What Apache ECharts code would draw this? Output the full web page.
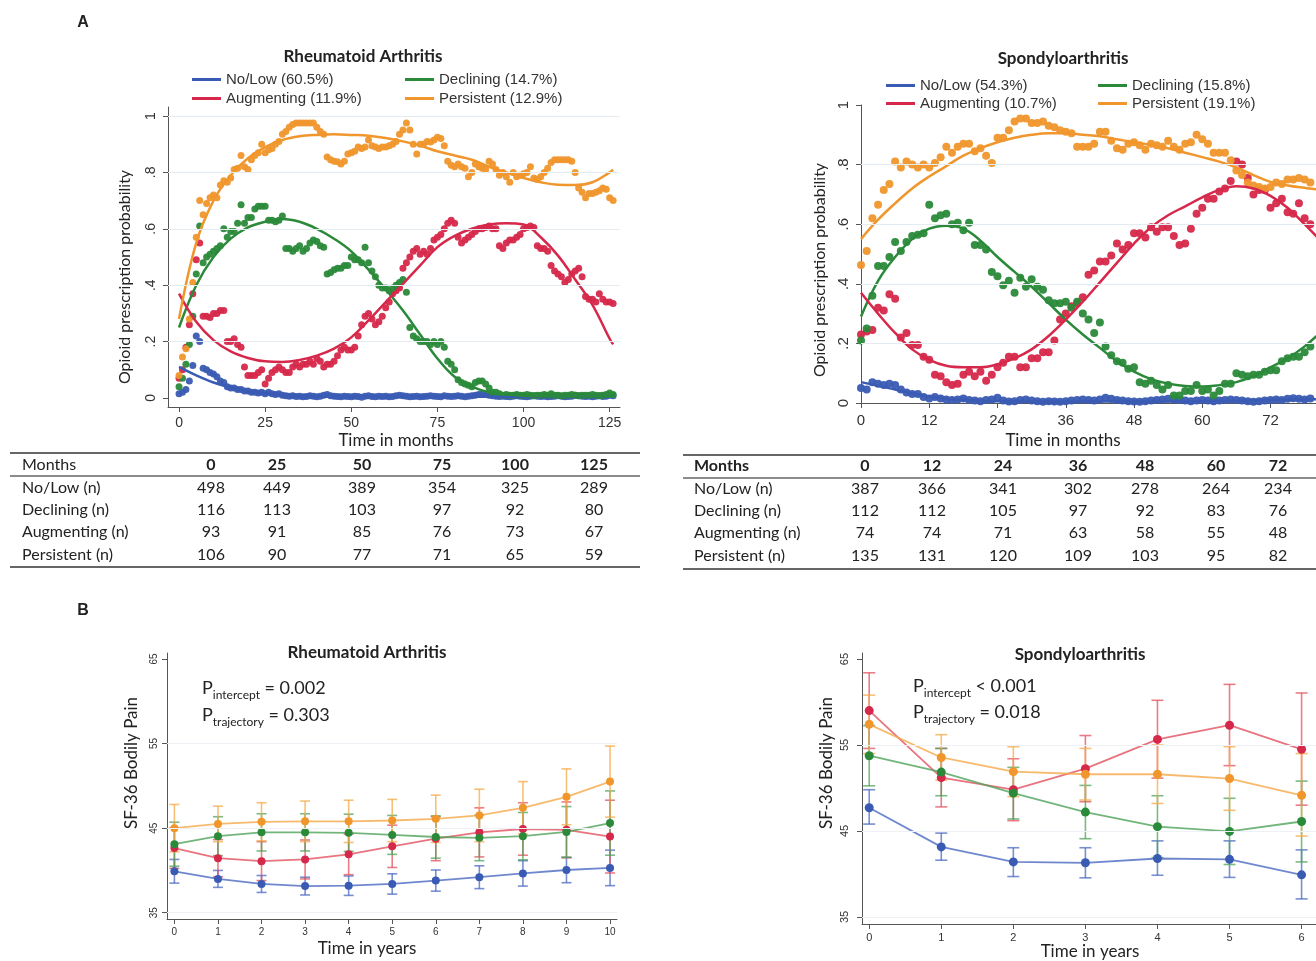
<!DOCTYPE html>
<html><head><meta charset="utf-8">
<script src="https://cdn.jsdelivr.net/npm/echarts@6/dist/echarts.min.js"></script>
<style>html,body{margin:0;padding:0;background:#fff}#c{width:1316px;height:961px}</style>
</head><body><div id="c"></div><script>
// ---------------- DATA ----------------
const groups = ['No/Low', 'Declining', 'Augmenting', 'Persistent'];
const raLegend = ['No/Low (60.5%)', 'Declining (14.7%)', 'Augmenting (11.9%)', 'Persistent (12.9%)'];
const spaLegend = ['No/Low (54.3%)', 'Declining (15.8%)', 'Augmenting (10.7%)', 'Persistent (19.1%)'];

// Panel A, Rheumatoid Arthritis: observed monthly probabilities, months 0..126
const raNoLow = [0.015,0.02,0.03,0.06,0.115,0.22,0.20,0.105,0.10,0.09,
 0.085,0.075,0.06,0.055,0.04,0.035,0.035,0.03,0.03,0.025,
 0.025,0.02,0.02,0.018,0.02,0.015,0.02,0.015,0.012,0.015,
 0.010,0.008,0.006,0.008,0.005,0.006,0.004,0.005,0.008,0.006,
 0.004,0.006,0.010,0.012,0.008,0.006,0.005,0.004,0.006,0.005,
 0.004,0.006,0.005,0.003,0.006,0.008,0.005,0.004,0.006,0.005,
 0.006,0.004,0.005,0.008,0.010,0.008,0.006,0.004,0.005,0.006,
 0.004,0.005,0.006,0.008,0.006,0.005,0.004,0.008,0.006,0.005,
 0.006,0.008,0.006,0.004,0.006,0.008,0.010,0.012,0.014,0.012,
 0.010,0.008,0.006,0.005,0.006,0.005,0.004,0.006,0.008,0.006,
 0.005,0.004,0.006,0.008,0.006,0.005,0.006,0.004,0.005,0.006,
 0.008,0.006,0.004,0.005,0.006,0.010,0.008,0.006,0.005,0.006,
 0.004,0.006,0.008,0.005,0.006,0.010,0.008];
const raDeclining = [0.04,0.07,0.12,0.19,0.29,0.44,0.61,0.48,0.50,0.51,
 0.52,0.53,0.54,0.60,0.57,0.59,0.59,0.62,0.685,0.62,
 0.64,0.64,0.67,0.68,0.68,0.68,0.63,0.63,0.625,0.63,
 0.645,0.53,0.53,0.52,0.53,0.54,0.52,0.53,0.55,0.56,
 0.555,0.54,0.535,0.44,0.445,0.455,0.46,0.46,0.47,0.47,
 0.50,0.49,0.49,0.48,0.535,0.48,0.45,0.43,0.40,0.39,
 0.39,0.38,0.39,0.40,0.41,0.42,0.375,0.25,0.22,0.21,
 0.20,0.20,0.20,0.19,0.20,0.19,0.20,0.18,0.13,0.12,
 0.10,0.065,0.055,0.05,0.045,0.04,0.055,0.06,0.06,0.05,
 0.035,0.02,0.02,0.015,0.01,0.012,0.01,0.01,0.012,0.01,
 0.01,0.012,0.01,0.008,0.01,0.01,0.012,0.01,0.015,0.01,
 0.01,0.008,0.01,0.01,0.012,0.01,0.008,0.01,0.01,0.01,
 0.012,0.01,0.008,0.01,0.012,0.018,0.012];
const raAugmenting = [0.07,0.10,0.18,0.26,0.37,0.49,0.55,0.29,0.29,0.285,
 0.30,0.30,0.31,0.31,0.20,0.20,0.21,0.19,0.18,0.11,
 0.08,0.08,0.08,0.09,0.10,0.05,0.07,0.09,0.10,0.11,
 0.10,0.09,0.09,0.11,0.12,0.11,0.12,0.12,0.13,0.12,
 0.14,0.13,0.11,0.12,0.12,0.13,0.15,0.17,0.18,0.17,
 0.17,0.18,0.22,0.26,0.29,0.30,0.28,0.26,0.27,0.29,
 0.32,0.34,0.37,0.38,0.39,0.46,0.48,0.50,0.52,0.53,
 0.51,0.52,0.51,0.53,0.56,0.57,0.58,0.60,0.62,0.63,
 0.62,0.57,0.55,0.56,0.57,0.58,0.59,0.60,0.60,0.605,
 0.61,0.60,0.60,0.54,0.53,0.55,0.56,0.56,0.57,0.58,
 0.60,0.605,0.61,0.605,0.54,0.53,0.53,0.52,0.47,0.45,
 0.44,0.43,0.41,0.42,0.44,0.45,0.46,0.43,0.36,0.35,
 0.35,0.34,0.37,0.35,0.34,0.34,0.335];
const raPersistent = [0.08,0.145,0.175,0.28,0.41,0.57,0.70,0.65,0.69,0.71,
 0.72,0.71,0.755,0.77,0.765,0.78,0.81,0.815,0.86,0.82,
 0.81,0.845,0.86,0.87,0.90,0.87,0.88,0.885,0.90,0.91,
 0.935,0.945,0.96,0.97,0.975,0.975,0.975,0.975,0.975,0.975,
 0.96,0.945,0.935,0.855,0.845,0.84,0.838,0.83,0.84,0.865,
 0.87,0.875,0.89,0.885,0.89,0.915,0.895,0.89,0.885,0.89,
 0.89,0.895,0.90,0.91,0.935,0.95,0.975,0.95,0.90,0.865,
 0.90,0.90,0.91,0.908,0.915,0.925,0.92,0.895,0.84,0.825,
 0.82,0.83,0.82,0.815,0.785,0.80,0.83,0.82,0.815,0.81,
 0.84,0.83,0.81,0.79,0.80,0.785,0.765,0.80,0.785,0.79,
 0.795,0.80,0.82,0.78,0.775,0.785,0.80,0.815,0.835,0.845,
 0.845,0.845,0.845,0.845,0.84,0.80,0.745,0.73,0.71,0.725,
 0.725,0.73,0.735,0.745,0.74,0.71,0.70];
// fitted trajectories (read at these months)
const raFitMonths = [0,5,10,15,20,25,30,35,40,45,50,55,60,65,70,75,80,85,90,95,100,105,110,115,120,125,126];
const raFitNoLow = [0.11,0.08,0.055,0.037,0.024,0.015,0.01,0.007,0.005,0.004,0.004,0.004,0.004,0.004,0.004,0.004,0.004,0.004,0.004,0.004,0.004,0.004,0.004,0.004,0.004,0.004,0.004];
const raFitDeclining = [0.25,0.40,0.50,0.565,0.605,0.625,0.635,0.625,0.60,0.565,0.52,0.455,0.385,0.31,0.225,0.14,0.075,0.04,0.02,0.012,0.008,0.006,0.005,0.005,0.005,0.005,0.005];
const raFitAugmenting = [0.37,0.27,0.205,0.165,0.142,0.13,0.128,0.135,0.15,0.175,0.215,0.275,0.34,0.405,0.47,0.535,0.575,0.60,0.615,0.62,0.615,0.57,0.505,0.42,0.33,0.21,0.19];
const raFitPersistent = [0.28,0.55,0.70,0.79,0.85,0.89,0.915,0.928,0.933,0.935,0.933,0.93,0.922,0.91,0.895,0.875,0.86,0.845,0.82,0.80,0.78,0.765,0.756,0.755,0.765,0.80,0.81];

// Panel A, Spondyloarthritis: months 0..79
const spaNoLow = [0.05,0.045,0.07,0.065,0.06,0.065,0.06,0.045,0.035,0.03,
 0.03,0.02,0.015,0.02,0.015,0.012,0.01,0.012,0.015,0.01,
 0.008,0.006,0.01,0.012,0.018,0.008,0.005,0.006,0.01,0.012,
 0.008,0.006,0.004,0.006,0.005,0.004,0.006,0.008,0.01,0.012,
 0.01,0.008,0.012,0.018,0.014,0.01,0.008,0.006,0.005,0.004,
 0.006,0.008,0.01,0.012,0.014,0.012,0.01,0.008,0.006,0.008,
 0.01,0.008,0.006,0.008,0.01,0.012,0.01,0.008,0.006,0.004,
 0.006,0.008,0.01,0.012,0.01,0.014,0.016,0.014,0.012,0.015];
const spaDeclining = [0.21,0.25,0.36,0.46,0.46,0.49,0.54,0.51,0.54,0.56,
 0.565,0.57,0.665,0.62,0.63,0.635,0.60,0.605,0.58,0.605,
 0.53,0.53,0.515,0.44,0.425,0.395,0.41,0.37,0.42,0.39,
 0.415,0.39,0.38,0.345,0.335,0.335,0.34,0.32,0.34,0.30,
 0.28,0.235,0.27,0.19,0.16,0.14,0.135,0.115,0.12,0.07,
 0.065,0.075,0.06,0.045,0.06,0.025,0.025,0.04,0.04,0.06,
 0.04,0.045,0.025,0.04,0.065,0.065,0.10,0.095,0.09,0.095,
 0.095,0.105,0.11,0.11,0.14,0.15,0.155,0.155,0.17,0.19];
const spaAugmenting = [0.23,0.24,0.245,0.32,0.31,0.365,0.35,0.22,0.235,0.195,
 0.195,0.155,0.145,0.095,0.09,0.07,0.06,0.065,0.095,0.105,
 0.09,0.105,0.075,0.095,0.12,0.135,0.155,0.155,0.12,0.12,
 0.15,0.15,0.17,0.17,0.21,0.28,0.30,0.325,0.335,0.355,
 0.43,0.445,0.475,0.475,0.495,0.535,0.515,0.53,0.57,0.57,
 0.555,0.59,0.575,0.59,0.59,0.56,0.53,0.535,0.585,0.635,
 0.655,0.685,0.685,0.71,0.72,0.745,0.81,0.80,0.755,0.70,
 0.715,0.715,0.655,0.67,0.685,0.64,0.635,0.67,0.62,0.60];
const spaPersistent = [0.463,0.51,0.62,0.665,0.715,0.735,0.81,0.79,0.81,0.80,
 0.79,0.80,0.79,0.805,0.825,0.86,0.84,0.86,0.87,0.87,
 0.845,0.855,0.83,0.805,0.89,0.89,0.915,0.945,0.955,0.955,
 0.94,0.94,0.945,0.93,0.925,0.915,0.91,0.905,0.86,0.86,
 0.86,0.87,0.91,0.91,0.88,0.855,0.85,0.87,0.875,0.865,
 0.85,0.87,0.865,0.86,0.88,0.86,0.85,0.87,0.875,0.90,
 0.885,0.87,0.84,0.84,0.84,0.815,0.78,0.765,0.74,0.73,
 0.725,0.72,0.725,0.74,0.735,0.75,0.75,0.755,0.75,0.74];
const spaFitMonths = [0,3,6,9,12,15,18,21,24,27,30,33,36,39,42,45,48,51,54,57,60,63,66,69,72,75,78,81,84];
const spaFitNoLow = [0.07,0.058,0.045,0.032,0.022,0.015,0.01,0.007,0.006,0.005,0.005,0.005,0.005,0.005,0.005,0.005,0.005,0.005,0.005,0.006,0.006,0.007,0.007,0.008,0.01,0.011,0.012,0.013,0.014];
const spaFitDeclining = [0.29,0.41,0.49,0.55,0.585,0.595,0.585,0.545,0.49,0.44,0.39,0.335,0.28,0.23,0.185,0.14,0.105,0.08,0.065,0.057,0.055,0.06,0.07,0.09,0.12,0.15,0.19,0.24,0.29];
const spaFitAugmenting = [0.37,0.30,0.235,0.18,0.145,0.125,0.12,0.12,0.13,0.15,0.18,0.225,0.28,0.34,0.405,0.47,0.535,0.59,0.63,0.66,0.69,0.715,0.727,0.72,0.695,0.655,0.60,0.54,0.47];
const spaFitPersistent = [0.55,0.615,0.67,0.72,0.76,0.795,0.83,0.855,0.875,0.89,0.90,0.905,0.905,0.90,0.895,0.885,0.875,0.866,0.855,0.84,0.825,0.81,0.79,0.765,0.742,0.73,0.722,0.715,0.71];

// Panel A tables
const raTableHead = ['0','25','50','75','100','125'];
const raTableRows = [
  ['No/Low (n)', 498,449,389,354,325,289],
  ['Declining (n)', 116,113,103,97,92,80],
  ['Augmenting (n)', 93,91,85,76,73,67],
  ['Persistent (n)', 106,90,77,71,65,59]];
const spaTableHead = ['0','12','24','36','48','60','72'];
const spaTableRows = [
  ['No/Low (n)', 387,366,341,302,278,264,234],
  ['Declining (n)', 112,112,105,97,92,83,76],
  ['Augmenting (n)', 74,74,71,63,58,55,48],
  ['Persistent (n)', 135,131,120,109,103,95,82]];

// Panel B, SF-36 bodily pain (mean, lower CI, upper CI)
const raYears = [0,1,2,3,4,5,6,7,8,9,10];
const raPainNoLow = [39.9,39.0,38.4,38.15,38.2,38.4,38.8,39.2,39.65,40.05,40.3];
const raPainNoLowLo = [38.5,38.0,37.4,37.1,37.05,37.2,37.55,37.85,38.15,38.55,38.2];
const raPainNoLowHi = [41.3,40.0,39.4,39.2,39.35,39.6,40.05,40.55,41.15,41.55,42.4];
const raPainDeclining = [43.1,44.05,44.5,44.5,44.45,44.2,43.95,43.85,44.05,44.55,45.6];
const raPainDecliningLo = [40.5,41.75,42.3,42.3,42.25,41.9,41.45,41.15,41.25,41.55,41.8];
const raPainDecliningHi = [45.7,46.35,46.7,46.7,46.65,46.5,46.45,46.55,46.85,47.55,49.4];
const raPainAugmenting = [42.65,41.45,41.1,41.3,41.9,42.85,43.75,44.5,44.9,44.8,44.0];
const raPainAugmentingLo = [40.25,39.25,38.8,39.0,39.5,40.35,41.15,41.6,41.8,41.5,39.7];
const raPainAugmentingHi = [45.05,43.65,43.4,43.6,44.3,45.35,46.35,47.4,48.0,48.1,48.3];
const raPainPersistent = [45.0,45.5,45.75,45.8,45.8,45.9,46.1,46.5,47.4,48.7,50.5];
const raPainPersistentLo = [42.2,43.4,43.5,43.4,43.3,43.4,43.3,43.4,44.3,45.4,46.3];
const raPainPersistentHi = [47.8,47.6,48.0,48.2,48.3,48.4,48.9,49.6,50.5,52.0,54.7];

const spaYears = [0,1,2,3,4,5,6];
const spaPainNoLow = [47.7,43.15,41.4,41.3,41.8,41.7,39.9];
const spaPainNoLowLo = [45.8,41.6,39.7,39.55,39.85,39.6,37.1];
const spaPainNoLowHi = [49.8,44.75,43.05,43.05,43.85,43.85,42.8];
const spaPainDeclining = [53.75,51.85,49.4,47.2,45.5,44.95,46.1];
const spaPainDecliningLo = [50.25,49.1,46.4,44.1,41.9,41.1,41.4];
const spaPainDecliningHi = [57.25,54.6,52.4,50.3,49.1,48.8,50.8];
const spaPainAugmenting = [59.0,51.2,49.8,52.25,55.65,57.3,54.5];
const spaPainAugmentingLo = [54.6,47.8,46.2,48.4,51.15,52.6,48.0];
const spaPainAugmentingHi = [63.4,54.6,53.4,56.1,60.2,62.05,61.05];
const spaPainPersistent = [57.4,53.55,51.9,51.6,51.6,51.1,49.15];
const spaPainPersistentLo = [54.0,50.9,49.0,48.6,48.2,47.4,44.4];
const spaPainPersistentHi = [60.8,56.2,54.8,54.6,55.0,54.8,54.0];

// tick labels
const raMonthTicks = [0,25,50,75,100,125];
const spaMonthTicks = [0,12,24,36,48,60,72];
const probTicks = [0,0.2,0.4,0.6,0.8,1];
const painTicks = [35,45,55,65];
const raYearTicks = [0,1,2,3,4,5,6,7,8,9,10];
const spaYearTicks = [0,1,2,3,4,5,6];

// ---------------- STYLE ----------------
const COL = ['#3a5bb3', '#2a8a3a', '#d6284a', '#f0962c'];
const COL_B_LINE = ['#4b69c0', '#4fa35a', '#e2515f', '#f5a949'];
const SANS = 'Liberation Sans';
const CAL = 'Lato';
const AX = '#555';

function pairs(xs, ys) { return ys.map((v, i) => [xs[i], v]); }
function seq(n) { const a = []; for (let i = 0; i < n; i++) a.push(i); return a; }
const raMonths = seq(raNoLow.length);
const spaMonths = seq(spaNoLow.length);

function probFmt(v) { if (v === 0) return '0'; if (v === 1) return '1'; return String(+v.toFixed(1)).replace(/^0/, ''); }

function xAxisCfg(grid, min, max, ticks, fs, margin) {
  return { type: 'value', gridIndex: grid, min, max,
    axisLine: { show: true, onZero: false, lineStyle: { color: AX, width: 1 } },
    axisTick: { show: true, length: 5, customValues: ticks, lineStyle: { color: AX } },
    axisLabel: { customValues: ticks, fontFamily: SANS, fontSize: fs, color: '#333', margin },
    splitLine: { show: false } };
}
function yAxisCfg(grid, min, max, ticks, fs, margin, fmt) {
  return { type: 'value', gridIndex: grid, min, max,
    axisLine: { show: true, onZero: false, lineStyle: { color: AX, width: 1 } },
    axisTick: { show: true, length: 5, customValues: ticks, lineStyle: { color: AX } },
    axisLabel: { customValues: ticks, fontFamily: SANS, fontSize: fs, color: '#333', margin, rotate: 90, formatter: fmt },
    splitLine: { show: false } };
}

const series = [];
// grid lines (drawn through the axes' own scale)
function gridLines(idx, ticks, color) {
  series.push({ type: 'line', xAxisIndex: idx, yAxisIndex: idx, data: [], silent: true, z: 0,
    markLine: { silent: true, symbol: 'none', label: { show: false }, animation: false,
      lineStyle: { color, type: 'solid', width: 1 }, data: ticks.map(v => ({ yAxis: v })) } });
}
gridLines(0, probTicks.slice(1), '#e4ecf2');
gridLines(1, probTicks.slice(1, 5), '#e4ecf2');
gridLines(2, painTicks.slice(0, 3), '#eef2f6');
gridLines(3, painTicks.slice(0, 3), '#eef2f6');

// Panel A scatter + fitted lines
const raObs = [raNoLow, raDeclining, raAugmenting, raPersistent];
const raFit = [raFitNoLow, raFitDeclining, raFitAugmenting, raFitPersistent];
const spaObs = [spaNoLow, spaDeclining, spaAugmenting, spaPersistent];
const spaFit = [spaFitNoLow, spaFitDeclining, spaFitAugmenting, spaFitPersistent];
const drawOrder = [0, 2, 1, 3];
drawOrder.forEach(g => {
  series.push({ type: 'scatter', name: 'RA ' + groups[g] + ' observed', xAxisIndex: 0, yAxisIndex: 0,
    data: pairs(raMonths, raObs[g]), symbolSize: 7, clip: false, itemStyle: { color: COL[g], opacity: 0.95 }, z: 2 });
  series.push({ type: 'scatter', name: 'SpA ' + groups[g] + ' observed', xAxisIndex: 1, yAxisIndex: 1,
    data: pairs(spaMonths, spaObs[g]), symbolSize: 8, clip: false, itemStyle: { color: COL[g], opacity: 0.95 }, z: 2 });
});
[0, 1, 2, 3].forEach(g => {
  series.push({ type: 'line', name: raLegend[g], xAxisIndex: 0, yAxisIndex: 0, smooth: 0.4, showSymbol: false,
    data: pairs(raFitMonths, raFit[g]), color: COL[g], lineStyle: { color: COL[g], width: 2.5 }, z: 3 });
  series.push({ type: 'line', name: spaLegend[g], xAxisIndex: 1, yAxisIndex: 1, smooth: 0.4, showSymbol: false,
    data: pairs(spaFitMonths, spaFit[g]), color: COL[g], lineStyle: { color: COL[g], width: 2.5 }, z: 3 });
});

// Panel B error bars + lines
function errRender(capW) {
  return function (params, api) {
    const x = api.value(0), lo = api.value(1), hi = api.value(2);
    const a = api.coord([x, lo]), b = api.coord([x, hi]);
    const st = { stroke: api.visual('color'), lineWidth: 1.6, opacity: 0.75 };
    return { type: 'group', children: [
      { type: 'line', shape: { x1: a[0], y1: a[1], x2: b[0], y2: b[1] }, style: st },
      { type: 'line', shape: { x1: a[0] - capW, y1: a[1], x2: a[0] + capW, y2: a[1] }, style: st },
      { type: 'line', shape: { x1: b[0] - capW, y1: b[1], x2: b[0] + capW, y2: b[1] }, style: st }] };
  };
}
const raB = [[raPainNoLow, raPainNoLowLo, raPainNoLowHi], [raPainDeclining, raPainDecliningLo, raPainDecliningHi],
  [raPainAugmenting, raPainAugmentingLo, raPainAugmentingHi], [raPainPersistent, raPainPersistentLo, raPainPersistentHi]];
const spaB = [[spaPainNoLow, spaPainNoLowLo, spaPainNoLowHi], [spaPainDeclining, spaPainDecliningLo, spaPainDecliningHi],
  [spaPainAugmenting, spaPainAugmentingLo, spaPainAugmentingHi], [spaPainPersistent, spaPainPersistentLo, spaPainPersistentHi]];
[0, 2, 1, 3].forEach(g => {
  [[2, raYears, raB, 5, 8], [3, spaYears, spaB, 6, 9]].forEach(([idx, xs, src, cap, ms]) => {
    const [m, lo, hi] = src[g];
    series.push({ type: 'custom', name: (idx === 2 ? 'RA ' : 'SpA ') + groups[g] + ' CI', xAxisIndex: idx, yAxisIndex: idx,
      renderItem: errRender(cap), data: xs.map((x, i) => [x, lo[i], hi[i]]), itemStyle: { color: COL_B_LINE[g] }, z: 2 });
    series.push({ type: 'line', name: (idx === 2 ? 'RA ' : 'SpA ') + groups[g] + ' mean', xAxisIndex: idx, yAxisIndex: idx,
      data: pairs(xs, m), symbol: 'circle', symbolSize: ms, showSymbol: true,
      lineStyle: { color: COL_B_LINE[g], width: 1.8, opacity: 0.8 }, itemStyle: { color: COL[g] }, z: 3 });
  });
});

// legends
const legends = [];
function leg(name, left, top) {
  legends.push({ data: [{ name, icon: 'rect' }], left, top, padding: 0, itemWidth: 29, itemHeight: 3, itemGap: 5,
    selectedMode: false, textStyle: { fontFamily: SANS, fontSize: 15, color: '#333', padding: [0, 0, 0, 0] } });
}
leg(raLegend[0], 192, 72); leg(raLegend[1], 405, 72); leg(raLegend[2], 192, 91); leg(raLegend[3], 405, 91);
leg(spaLegend[0], 886, 78); leg(spaLegend[1], 1098, 78); leg(spaLegend[2], 886, 96); leg(spaLegend[3], 1098, 96);

// text graphics
const G = [];
function txt(text, x, y, o) {
  G.push(Object.assign({ type: 'text', x, y, silent: true,
    style: Object.assign({ text, fill: '#222', font: '16px ' + CAL, textAlign: 'center', textVerticalAlign: 'middle' }, (o && o.style) || {}) },
    o && o.rotation !== undefined ? { rotation: o.rotation } : {}));
}
function hline(x1, x2, y, w) {
  G.push({ type: 'line', silent: true, shape: { x1, y1: y, x2, y2: y }, style: { stroke: '#666', lineWidth: w } });
}
txt('A', 83, 23, { style: { font: 'bold 16px ' + SANS } });
txt('B', 83, 611, { style: { font: 'bold 16px ' + SANS } });
txt('Rheumatoid Arthritis', 363, 57, { style: { font: 'bold 17px ' + CAL } });
txt('Spondyloarthritis', 1063, 59, { style: { font: 'bold 17px ' + CAL } });
txt('Opioid prescription probability', 125, 277, { rotation: Math.PI / 2, style: { font: '16px ' + CAL } });
txt('Opioid prescription probability', 820, 270, { rotation: Math.PI / 2, style: { font: '16px ' + CAL } });
txt('Time in months', 396, 441, { style: { font: '17px ' + CAL } });
txt('Time in months', 1063, 441, { style: { font: '17px ' + CAL } });
txt('Rheumatoid Arthritis', 367, 653, { style: { font: 'bold 17px ' + CAL } });
txt('Spondyloarthritis', 1080, 655, { style: { font: 'bold 17px ' + CAL } });
txt('SF-36 Bodily Pain', 132, 763, { rotation: Math.PI / 2, style: { font: '17px ' + CAL } });
txt('SF-36 Bodily Pain', 827, 763, { rotation: Math.PI / 2, style: { font: '17px ' + CAL } });
txt('Time in years', 367, 949, { style: { font: '17px ' + CAL } });
txt('Time in years', 1090, 952, { style: { font: '17px ' + CAL } });
function pText(sub, rest, x, y) {
  G.push({ type: 'text', x, y, silent: true, style: {
    text: '{p|P}{s|' + sub + '}{p|' + rest + '}', textAlign: 'left', textVerticalAlign: 'middle',
    rich: { p: { font: '18px ' + CAL, fill: '#222', verticalAlign: 'bottom', padding: [0, 0, 4, 0], lineHeight: 22 },
            s: { font: '12px ' + CAL, fill: '#222', verticalAlign: 'bottom', lineHeight: 14 } } } });
}
pText('intercept', ' = 0.002', 202, 690);
pText('trajectory', ' = 0.303', 202, 717);
pText('intercept', ' < 0.001', 913, 688);
pText('trajectory', ' = 0.018', 913, 714);

// tables
function table(head, rows, labelX, colX, x1, x2, yTop, yMid, yBot, rowY, headBoldLabel) {
  hline(x1, x2, yTop, 2); hline(x1, x2, yMid, 1.5); hline(x1, x2, yBot, 2);
  txt('Months', labelX, rowY[0], { style: { textAlign: 'left', font: (headBoldLabel ? 'bold ' : '') + '16px ' + CAL } });
  head.forEach((h, j) => txt(h, colX[j], rowY[0], { style: { font: 'bold 16px ' + CAL } }));
  rows.forEach((r, i) => {
    txt(r[0], labelX, rowY[i + 1], { style: { textAlign: 'left', font: '16px ' + CAL } });
    r.slice(1).forEach((v, j) => txt(String(v), colX[j], rowY[i + 1], { style: { font: '16px ' + CAL } }));
  });
}
table(raTableHead, raTableRows, 22, [211, 277, 362, 442, 515, 594], 10, 640, 453, 476, 567, [465, 488, 510, 532, 555], false);
table(spaTableHead, spaTableRows, 694, [865, 932, 1003, 1078, 1145, 1216, 1278], 683, 1316, 455, 478, 569, [466, 489, 511, 533, 556], true);

const option = {
  backgroundColor: '#ffffff',
  animation: false,
  grid: [
    { left: 168, top: 107, width: 452, height: 300 },
    { left: 861, top: 105, width: 466, height: 298 },
    { left: 167, top: 653, width: 450, height: 266 },
    { left: 862, top: 653, width: 461, height: 271 }],
  xAxis: [
    xAxisCfg(0, -3.2, 128, raMonthTicks, 14, 9),
    xAxisCfg(1, 0, 80, spaMonthTicks, 15, 10),
    xAxisCfg(2, -0.17, 10.16, raYearTicks, 10, 8),
    xAxisCfg(3, -0.1, 6.2, spaYearTicks, 11, 8)],
  yAxis: [
    yAxisCfg(0, -0.032, 1.032, probTicks, 14, 10, probFmt),
    yAxisCfg(1, 0, 1, probTicks, 15, 10, probFmt),
    yAxisCfg(2, 34.26, 65.7, painTicks, 10, 8),
    yAxisCfg(3, 34.18, 65.7, painTicks, 11, 12)],
  legend: legends,
  series,
  graphic: G
};
const chart = echarts.init(document.getElementById('c'));
chart.setOption(option);
</script></body></html>
